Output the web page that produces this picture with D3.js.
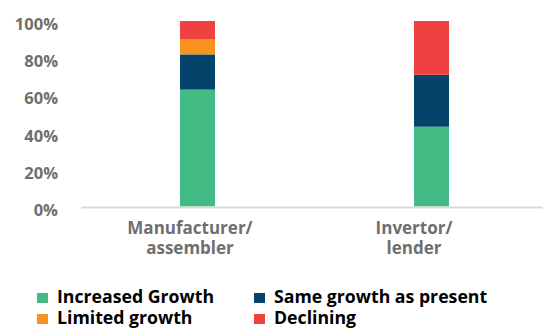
<!DOCTYPE html>
<html>
<head>
<meta charset="utf-8">
<script src="https://cdn.jsdelivr.net/npm/d3@7"></script>
<style>
  html, body { margin: 0; padding: 0; background: #fff; }
  svg { display: block; font-family: "Open Sans", Lato, sans-serif; }
</style>
</head>
<body>
<svg id="chart" width="543" height="329"></svg>
<script>
// Outlook by respondent type (share of answers, %)
const categories = [["Manufacturer/", "assembler"], ["Invertor/", "lender"]];
const seriesNames = ["Increased Growth", "Same growth as present", "Limited growth", "Declining"];
const increasedGrowth = [63, 43];
const sameGrowth = [19, 28];
const limitedGrowth = [8, 0];
const declining = [10, 29];
const yTicks = [0, 20, 40, 60, 80, 100];
const colors = ["#43BB85", "#04446B", "#F7931E", "#EF4140"];

const rows = categories.map((c, i) => ({
  key: c.join(" "),
  lines: c,
  "Increased Growth": increasedGrowth[i],
  "Same growth as present": sameGrowth[i],
  "Limited growth": limitedGrowth[i],
  "Declining": declining[i]
}));

const svg = d3.select("#chart");
const m = { left: 81, top: 21, bottom: 122.5 };
const W = 543, H = 329;

const x = d3.scaleBand().domain(rows.map(d => d.key))
  .range([m.left, 548]).paddingInner(0.8504).paddingOuter(0.423);
const xLabel = d3.scalePoint().domain(rows.map(d => d.key))
  .range([m.left, W]).padding(0.531).align(0.458);
const y = d3.scaleLinear().domain([0, 100]).range([H - m.bottom, m.top]);

const stack = d3.stack().keys(seriesNames)(rows);

svg.append("g").selectAll("g").data(stack).join("g")
  .attr("fill", (d, i) => colors[i])
  .selectAll("rect").data(d => d).join("rect")
  .attr("x", d => x(d.data.key))
  .attr("width", x.bandwidth())
  .attr("y", d => y(d[1]))
  .attr("height", d => y(d[0]) - y(d[1]));

// baseline
svg.append("line")
  .attr("x1", m.left).attr("x2", W)
  .attr("y1", y(0) + 1).attr("y2", y(0) + 1)
  .attr("stroke", "#d9d9d9").attr("stroke-width", 2);

// y axis labels
const yAxis = d3.axisLeft(y).tickValues(yTicks).tickFormat(d => d + "%").tickSize(0).tickPadding(0);
const ya = svg.append("g").attr("transform", "translate(58,0)").call(yAxis);
ya.select(".domain").remove();
ya.selectAll(".tick").attr("transform", d => `translate(0,${y(d) + 3.5})`);
ya.selectAll("text")
  .attr("dy", "0.35em")
  .attr("fill", "#6f6f6f").style("font-size", "16.5px").style("font-weight", "bold")
  .style("font-family", "'Open Sans', sans-serif");

// category labels, one text per line
const xg = svg.append("g").selectAll("g").data(rows).join("g")
  .attr("transform", d => `translate(${xLabel(d.key)},0)`);
xg.selectAll("text").data(d => d.lines).join("text")
  .attr("x", 0)
  .attr("y", (d, i) => 234 + i * 20)
  .attr("text-anchor", "middle")
  .attr("fill", "#6f6f6f")
  .style("font-size", "17px").style("font-weight", "bold")
  .text(d => d);

// legend
const legendPos = [[37, 293], [254, 293], [37, 314], [254, 314]];
const lg = svg.append("g").selectAll("g").data(seriesNames).join("g")
  .attr("transform", (d, i) => `translate(${legendPos[i][0]},${legendPos[i][1]})`);
lg.append("rect").attr("width", 11).attr("height", 10).attr("fill", (d, i) => colors[i]);
lg.append("text").attr("x", 20).attr("y", 9.5)
  .attr("fill", "#000").style("font-size", "17.7px").style("font-weight", "bold")
  .text(d => d);
</script>
</body>
</html>
